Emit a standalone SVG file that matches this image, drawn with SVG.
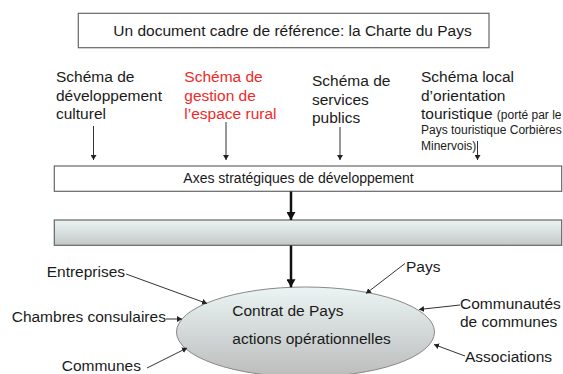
<svg xmlns="http://www.w3.org/2000/svg" width="563" height="374" viewBox="0 0 563 374">
<style>
text{font-family:"Liberation Sans",Arial,sans-serif;fill:#1a1a1a;font-size:15.5px}
.red{fill:#f02828}
.small{font-size:12px}
.axes{font-size:14px}
.box{fill:#fff;stroke:#666;stroke-width:1.2}
.thin{stroke:#333;stroke-width:1;fill:none}
.thick{stroke:#111;stroke-width:2.5;fill:none}
</style>
<defs>
<marker id="ah" markerUnits="userSpaceOnUse" markerWidth="6" markerHeight="6" refX="5" refY="3" orient="auto">
<path d="M0,0 L5,3 L0,6 Z" fill="#222"/>
</marker>
<marker id="ahb" markerUnits="userSpaceOnUse" markerWidth="9" markerHeight="9" refX="8" refY="4.5" orient="auto">
<path d="M0,0 L8,4.5 L0,9 Z" fill="#111"/>
</marker>
<linearGradient id="gBox" x1="0" y1="0" x2="0" y2="1">
<stop offset="0" stop-color="#eaf3f3"/>
<stop offset="1" stop-color="#c4c8c8"/>
</linearGradient>
<linearGradient id="gEll" x1="0" y1="0" x2="0" y2="1">
<stop offset="0" stop-color="#ebf4f4"/>
<stop offset="1" stop-color="#bcbcbc"/>
</linearGradient>
</defs>

<g id="title">
<rect class="box" x="78.3" y="13.3" width="410.7" height="34.4"/>
<text x="113.3" y="35.7">Un document cadre de référence: la Charte du Pays</text>
</g>

<g id="schema-culturel">
<text x="56" y="81.7">Schéma de</text>
<text x="56" y="100.7">développement</text>
<text x="56" y="119.3">culturel</text>
</g>
<g id="schema-rural">
<text class="red" x="184.3" y="81.7">Schéma de</text>
<text class="red" x="184.3" y="100.7">gestion de</text>
<text class="red" x="184.3" y="119.3">l’espace rural</text>
</g>
<g id="schema-services">
<text x="312" y="86">Schéma de</text>
<text x="312" y="104.5">services</text>
<text x="312" y="123">publics</text>
</g>
<g id="schema-touristique">
<text x="421" y="82">Schéma local</text>
<text x="421" y="100.5">d’orientation</text>
<text x="421" y="119">touristique <tspan class="small">(porté par le</tspan></text>
<text class="small" x="421" y="134">Pays touristique Corbières</text>
<text class="small" x="421" y="150">Minervois)</text>
</g>

<g id="axes">
<rect class="box" x="54.3" y="166" width="507.4" height="25.3"/>
<text class="axes" x="183.3" y="182.7">Axes stratégiques de développement</text>
</g>
<g id="bar">
<rect x="54.3" y="220" width="507.4" height="25.3" fill="url(#gBox)" stroke="#666" stroke-width="1.2"/>
</g>

<g id="contrat">
<ellipse cx="305.5" cy="332" rx="129" ry="45" fill="url(#gEll)" stroke="#888" stroke-width="1"/>
<text x="232.3" y="315.7">Contrat de Pays</text>
<text x="232.3" y="344.3">actions opérationnelles</text>
</g>

<g id="entreprises"><text x="46.7" y="277.3">Entreprises</text></g>
<g id="chambres"><text x="11.7" y="321.7">Chambres consulaires</text></g>
<g id="communes"><text x="61.7" y="370.7">Communes</text></g>
<g id="pays"><text x="406" y="271.7">Pays</text></g>
<g id="communautes"><text x="460" y="309">Communautés</text><text x="460" y="327">de communes</text></g>
<g id="associations"><text x="465" y="361.7">Associations</text></g>

<g id="connectors">
<line class="thin" x1="93.5" y1="126" x2="93.5" y2="160" stroke="#777" marker-end="url(#ah)"/>
<line class="thin" x1="226" y1="122" x2="226" y2="160" marker-end="url(#ah)"/>
<line class="thin" x1="340" y1="127" x2="340" y2="160" marker-end="url(#ah)"/>
<line class="thin" x1="477.5" y1="141" x2="477.5" y2="160" marker-end="url(#ah)"/>
<line class="thick" x1="291" y1="191.5" x2="291" y2="220" marker-end="url(#ahb)"/>
<line class="thick" x1="291" y1="245.5" x2="291" y2="287.3" marker-end="url(#ahb)"/>
<line class="thin" x1="126" y1="274" x2="207" y2="303.5" marker-end="url(#ah)"/>
<line class="thin" x1="166" y1="319" x2="182" y2="319" marker-end="url(#ah)"/>
<line class="thin" x1="147" y1="368" x2="187" y2="348" marker-end="url(#ah)"/>
<line class="thin" x1="405" y1="263.5" x2="366" y2="293.5" marker-end="url(#ah)"/>
<line class="thin" x1="460" y1="305" x2="419" y2="309.5" marker-end="url(#ah)"/>
<line class="thin" x1="465" y1="356" x2="434" y2="344.5" marker-end="url(#ah)"/>
</g>
</svg>
